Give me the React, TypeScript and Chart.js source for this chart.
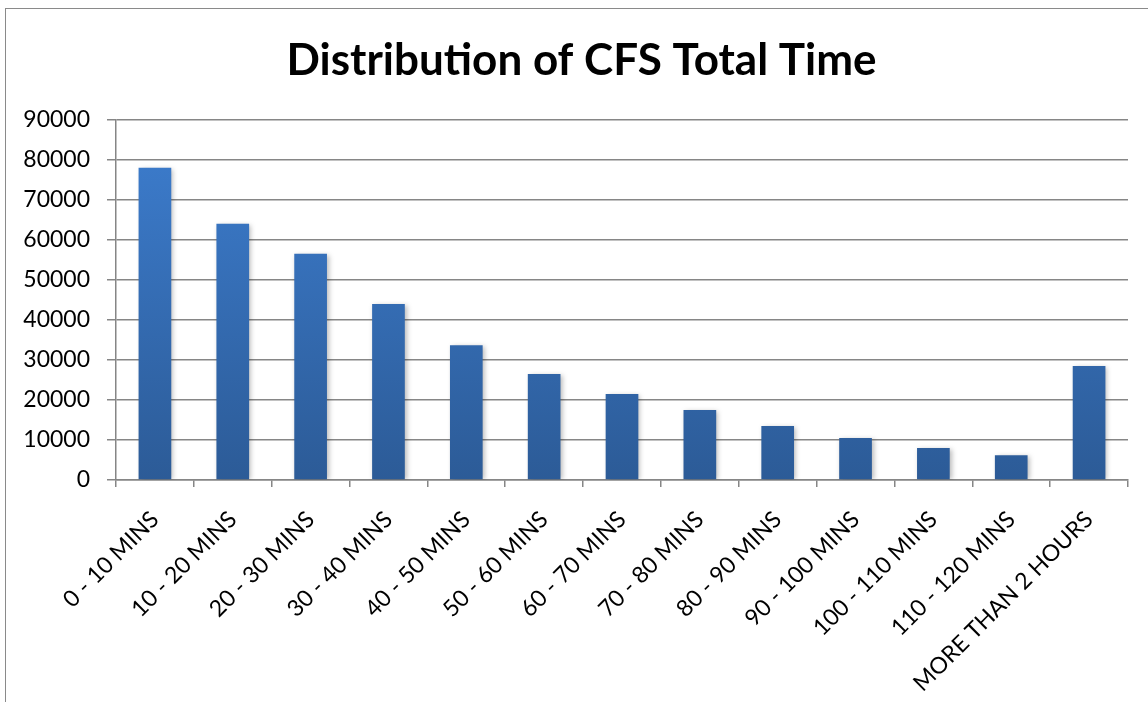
import React, { useEffect, useRef } from "react";
import { Chart, registerables } from "chart.js";

Chart.register(...registerables);

const categories = [
  "0 - 10 MINS",
  "10 - 20 MINS",
  "20 - 30 MINS",
  "30 - 40 MINS",
  "40 - 50 MINS",
  "50 - 60 MINS",
  "60 - 70 MINS",
  "70 - 80 MINS",
  "80 - 90 MINS",
  "90 - 100 MINS",
  "100 - 110 MINS",
  "110 - 120 MINS",
  "MORE THAN 2 HOURS",
];

const counts = [78000, 64000, 56500, 44000, 33700, 26500, 21500, 17500, 13500, 10500, 8000, 6200, 28500];

const yTicks = [0, 10000, 20000, 30000, 40000, 50000, 60000, 70000, 80000, 90000];

const titleText = "Distribution of CFS Total Time";

const FONT = "Lato, 'Open Sans', sans-serif";

const shadowPlugin = {
  id: "barShadow",
  afterLayout(chart: any) {
    const t = chart.titleBlock;
    if (t) t.left += 35;
  },
  beforeDatasetsDraw(chart: any) {
    const ctx = chart.ctx;
    ctx.save();
    ctx.shadowColor = "rgba(0,0,0,0.28)";
    ctx.shadowBlur = 5;
    ctx.shadowOffsetX = 2;
    ctx.shadowOffsetY = 1;
  },
  afterDatasetsDraw(chart: any) {
    chart.ctx.restore();
  },
};

export default function App() {
  const canvasRef = useRef<HTMLCanvasElement | null>(null);

  useEffect(() => {
    const canvas = canvasRef.current;
    if (!canvas) return;
    const chart = new Chart(canvas, {
      type: "bar",
      data: {
        labels: categories,
        datasets: [
          {
            data: counts,
            backgroundColor: (c: any) => {
              const area = c.chart.chartArea;
              if (!area) return "#3670b8";
              const g = c.chart.ctx.createLinearGradient(0, area.top, 0, area.bottom);
              g.addColorStop(0, "#3d7ed0");
              g.addColorStop(1, "#2c5b97");
              return g;
            },
            borderWidth: 0,
            barPercentage: 0.42,
            categoryPercentage: 1,
          },
        ],
      },
      plugins: [shadowPlugin],
      options: {
        responsive: false,
        animation: false,
        layout: { padding: { left: 0, right: 20, top: 0, bottom: 0 } },
        plugins: {
          legend: { display: false },
          tooltip: { enabled: false },
          title: {
            display: true,
            text: titleText,
            color: "#000",
            font: { family: FONT, size: 44, weight: "bold" },
            padding: { top: 34, bottom: 33 },
          },
        },
        scales: {
          x: {
            offset: true,
            grid: {
              offset: true,
              drawOnChartArea: false,
              drawTicks: true,
              tickLength: 7,
              color: "#868686",
              lineWidth: 1.5,
            },
            border: { display: true, color: "#868686", width: 1.5 },
            ticks: {
              color: "#000",
              font: { family: FONT, size: 23 },
              maxRotation: 45,
              minRotation: 45,
              autoSkip: false,
              padding: 19,
            },
            afterFit(scale: any) {
              scale.height = 222;
            },
          },
          y: {
            min: 0,
            max: 90000,
            afterBuildTicks(scale: any) {
              scale.ticks = yTicks.map((v) => ({ value: v }));
            },
            grid: {
              color: "#868686",
              lineWidth: 1.5,
              tickLength: 9,
            },
            border: { display: true, color: "#868686", width: 1.5 },
            ticks: {
              color: "#000",
              font: { family: FONT, size: 23 },
              padding: 17,
              callback: (v: any) => String(v),
            },
            afterFit(scale: any) {
              scale.width = 116;
            },
          },
        },
      },
    });
    return () => chart.destroy();
  }, []);

  return (
    <div style={{ position: "absolute", left: 0, top: 0, width: 1148, height: 702, overflow: "hidden", background: "#fff" }}>
      <div
        style={{
          position: "absolute",
          left: 5,
          top: 8,
          width: 1300,
          height: 900,
          borderLeft: "1.5px solid #8a8a8a",
          borderTop: "1.5px solid #8a8a8a",
        }}
      />
      <canvas ref={canvasRef} width={1148} height={702} style={{ position: "absolute", left: 0, top: 0 }} />
    </div>
  );
}
